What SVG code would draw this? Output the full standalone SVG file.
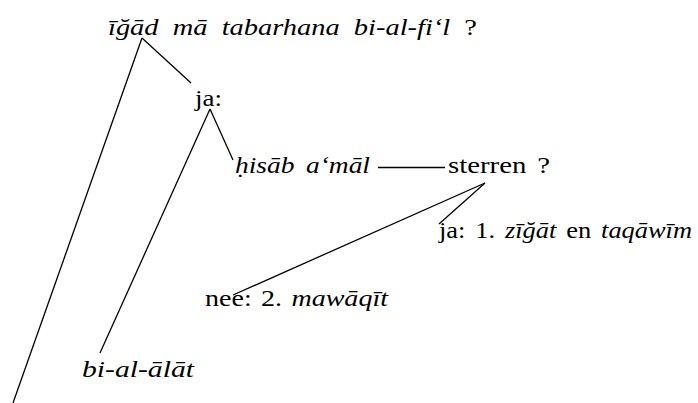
<svg xmlns="http://www.w3.org/2000/svg" width="698" height="403" viewBox="0 0 698 403">
<style>
text{font-family:"Liberation Serif","DejaVu Serif",serif;font-size:24px;fill:#000}
.it{font-style:italic}
.up{font-style:normal}
line{stroke:#000;stroke-width:1.3;fill:none}
</style>
<rect width="698" height="403" fill="#fff"/>
<g id="connectors">
<line x1="142" y1="38" x2="13" y2="403"/>
<line x1="142" y1="38" x2="191" y2="83"/>
<line x1="210" y1="109" x2="100" y2="353"/>
<line x1="210" y1="109" x2="233" y2="160"/>
<line x1="378" y1="167.5" x2="445" y2="167.5"/>
<line x1="485" y1="183" x2="233" y2="295"/>
<line x1="485" y1="183" x2="439" y2="224"/>
</g>
<g id="n-title"><text x="108" y="35" class="it" word-spacing="6" textLength="369" lengthAdjust="spacingAndGlyphs">īğād mā tabarhana bi-al-fi‘l <tspan class="up">?</tspan></text></g>
<g id="n-ja1"><text x="195" y="106" textLength="27" lengthAdjust="spacingAndGlyphs">ja:</text></g>
<g id="n-hisab"><text x="235" y="173" class="it" word-spacing="4" textLength="135" lengthAdjust="spacingAndGlyphs">ḥisāb a‘māl</text></g>
<g id="n-sterren"><text x="448" y="173" word-spacing="3" textLength="102" lengthAdjust="spacingAndGlyphs">sterren ?</text></g>
<g id="n-ja2"><text x="439" y="238" word-spacing="3" textLength="253" lengthAdjust="spacingAndGlyphs">ja: 1. <tspan class="it">zīğāt</tspan> en <tspan class="it">taqāwīm</tspan></text></g>
<g id="n-nee"><text x="205" y="306" word-spacing="2" textLength="183" lengthAdjust="spacingAndGlyphs">nee: 2. <tspan class="it">mawāqīt</tspan></text></g>
<g id="n-bialalat"><text x="82" y="377" class="it" textLength="112" lengthAdjust="spacingAndGlyphs">bi-al-ālāt</text></g>
</svg>
